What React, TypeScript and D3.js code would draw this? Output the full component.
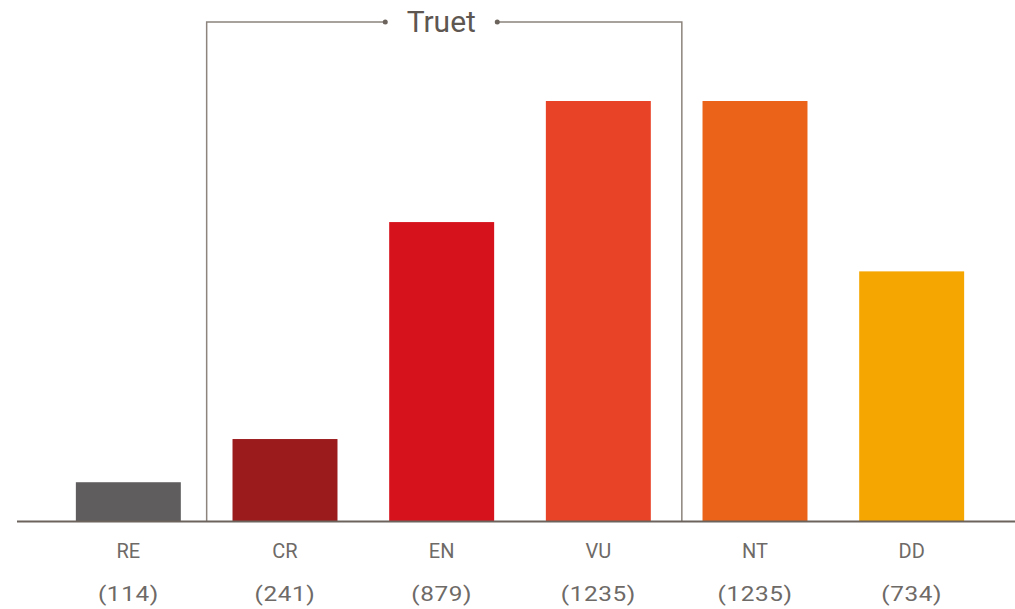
import React from "react";
import * as d3 from "d3";

const categories = ["RE", "CR", "EN", "VU", "NT", "DD"];
const values = [114, 241, 879, 1235, 1235, 734];
const colors = ["#5f5d5e", "#9b1a1b", "#d6131d", "#e84227", "#ea6318", "#f5a600"];
const bracketLabel = "Truet";
const bracketFrom = "CR";
const bracketTo = "VU";

const W = 1015;
const H = 609;

export default function App() {
  const baseY = 521;
  const x = d3
    .scaleBand<string>()
    .domain(categories)
    .range([50, 990])
    .paddingInner(0.33)
    .paddingOuter(0.165);
  const y = d3.scaleLinear().domain([0, 1235]).range([baseY, 101]);
  const step = x.step();
  const gap = step - x.bandwidth();
  const bx0 = (x(bracketFrom) as number) - gap / 2;
  const bx1 = (x(bracketTo) as number) + x.bandwidth() + gap * 0.6;
  const by = 22;
  const cx = (bx0 + bx1) / 2 - 3;
  const half = 56;
  const lineColor = "#8c847d";
  const textColor = "#6e6a67";
  return (
    <svg
      width={W}
      height={H}
      style={{ position: "absolute", left: 0, top: 0, background: "#fff" }}
      fontFamily="Roboto, sans-serif"
    >
      {categories.map((c, i) => (
        <rect
          key={c}
          x={x(c)}
          y={y(values[i])}
          width={x.bandwidth()}
          height={baseY - y(values[i])}
          fill={colors[i]}
        />
      ))}
      <path
        d={`M${bx0},${baseY} V${by} H${cx - half} M${cx + half},${by} H${bx1} V${baseY}`}
        fill="none"
        stroke={lineColor}
        strokeWidth={1.5}
      />
      <circle cx={cx - half} cy={by} r={2.5} fill="#6b635c" />
      <circle cx={cx + half} cy={by} r={2.5} fill="#6b635c" />
      <text
        x={cx}
        y={by + 10}
        textAnchor="middle"
        fontSize={30}
        fill="#5e5650"
      >
        {bracketLabel}
      </text>
      <line x1={17} x2={W} y1={baseY + 0.5} y2={baseY + 0.5} stroke="#6b635c" strokeWidth={2.2} />
      {categories.map((c, i) => (
        <g key={c} transform={`translate(${(x(c) as number) + x.bandwidth() / 2},0)`}>
          <text y={558} textAnchor="middle" fontSize={20} fill={textColor}>
            {c}
          </text>
          <g transform="scale(1.16,1)">
            <text y={601} textAnchor="middle" fontSize={21} letterSpacing={0.5} fill={textColor}>
              ({values[i]})
            </text>
          </g>
        </g>
      ))}
    </svg>
  );
}
